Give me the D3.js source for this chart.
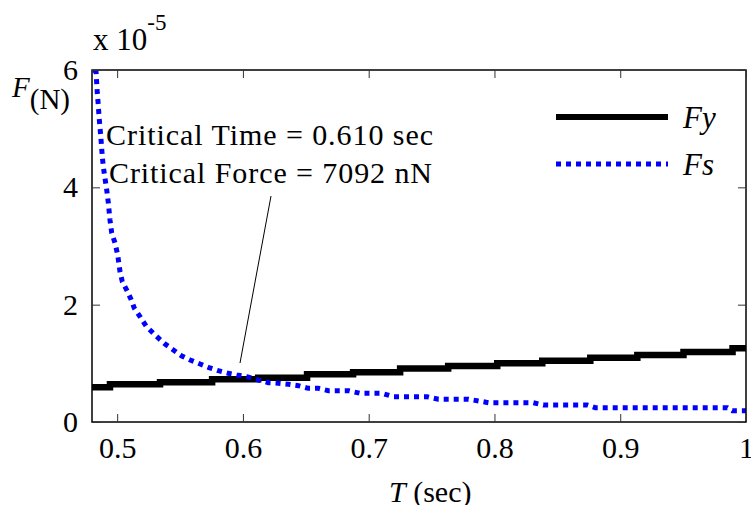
<!DOCTYPE html>
<html>
<head>
<meta charset="utf-8">
<script src="https://cdn.jsdelivr.net/npm/d3@7"></script>
</head>
<body style="margin:0;background:#fff">
<svg id="chart" width="751" height="505" style="display:block"></svg>
<script>
// ---- data (values in units of 1e-5 N) ----
const xTicks = [0.5, 0.6, 0.7, 0.8, 0.9, 1.0];
const xTickLabels = ["0.5", "0.6", "0.7", "0.8", "0.9", "1"];
const yTicks = [0, 2, 4, 6];
const yTickLabels = ["0", "2", "4", "6"];

// Fy: staircase (start time of each level, level value)
const fyT = [0.480, 0.4943, 0.5341, 0.5755, 0.6121, 0.6510, 0.6876, 0.7250, 0.7632, 0.8022, 0.8380, 0.8762, 0.9136, 0.9503, 0.9893, 1.0];
const fyV = [0.591, 0.643, 0.677, 0.728, 0.755, 0.813, 0.847, 0.912, 0.954, 1.000, 1.045, 1.096, 1.142, 1.193, 1.256, 1.256];

// Fs: decaying curve
const fsT = [0.4816, 0.4832, 0.4842, 0.4850, 0.4856, 0.4864, 0.4872, 0.4882, 0.4890, 0.4903, 0.4917, 0.4930, 0.4943, 0.4957, 0.4983,
  0.5004, 0.5023, 0.5041, 0.5076, 0.5110, 0.5137, 0.5182, 0.5230, 0.5301, 0.5381, 0.5447, 0.5514, 0.5580, 0.5659, 0.5725,
  0.5805, 0.5884, 0.5951, 0.6031, 0.6123, 0.6203, 0.6282, 0.6362, 0.6441, 0.6521, 0.6600, 0.6680, 0.6839, 0.6932, 0.7105,
  0.7197, 0.7463, 0.7555, 0.7794, 0.7953, 0.8308, 0.8388, 0.8738, 0.8802, 0.9852, 0.9891, 1.0];
const fsV = [6.0, 5.97, 5.607, 5.403, 5.204, 5.011, 4.807, 4.522, 4.352, 4.159, 3.955, 3.733, 3.443, 3.222, 3.051,
  2.85, 2.562, 2.391, 2.250, 2.091, 1.938, 1.795, 1.636, 1.483, 1.330, 1.227, 1.125, 1.057, 0.989, 0.932,
  0.874, 0.830, 0.801, 0.772, 0.716, 0.670, 0.660, 0.643, 0.619, 0.574, 0.574, 0.534, 0.534, 0.489, 0.489,
  0.431, 0.431, 0.387, 0.387, 0.329, 0.329, 0.290, 0.290, 0.244, 0.244, 0.193, 0.193];

const criticalT = 0.610;
const criticalF = 7092;

// ---- layout ----
const FONT = '"Liberation Serif"';
const svg = d3.select("#chart");
const L = 92, R = 746, T = 70, B = 422;
const x = d3.scaleLinear().domain([0.48, 1.0]).range([L, R]);
const y = d3.scaleLinear().domain([0, 6]).range([B, T]);

svg.append("defs").append("clipPath").attr("id", "plotclip")
  .append("rect").attr("x", L).attr("y", T).attr("width", R - L).attr("height", B - T);

const plot = svg.append("g").attr("clip-path", "url(#plotclip)");

// Fy line
const fyData = fyT.map((t, i) => [t, fyV[i]]);
plot.append("path")
  .datum(fyData)
  .attr("fill", "none")
  .attr("stroke", "#000")
  .attr("stroke-width", 6.5)
  .attr("d", d3.line().x(d => x(d[0])).y(d => y(d[1])).curve(d3.curveStepAfter));

// Fs dotted line
const fsData = fsT.map((t, i) => [t, fsV[i]]);
plot.append("path")
  .datum(fsData)
  .attr("fill", "none")
  .attr("stroke", "#0000ff")
  .attr("stroke-width", 5)
  .attr("stroke-dasharray", "5,5")
  .attr("d", d3.line().x(d => x(d[0])).y(d => y(d[1])));

// box
svg.append("rect").attr("x", L).attr("y", T).attr("width", R - L).attr("height", B - T)
  .attr("fill", "none").attr("stroke", "#000").attr("stroke-width", 1.5);

// axes (ticks inward)
const fs = 30;
const gx = svg.append("g").attr("transform", `translate(0,${B})`)
  .call(d3.axisBottom(x).tickValues(xTicks).tickSize(-8).tickPadding(0)
    .tickFormat((d, i) => xTickLabels[i]));
gx.select(".domain").remove();
gx.selectAll("text").attr("y", 15).attr("dy", "0.71em").attr("fill", "#000")
  .style("font-size", fs + "px").style("font-family", FONT);

const gxt = svg.append("g").attr("transform", `translate(0,${T})`)
  .call(d3.axisTop(x).tickValues(xTicks).tickSize(-8).tickFormat(""));
gxt.select(".domain").remove();

const gy = svg.append("g").attr("transform", `translate(${L},0)`)
  .call(d3.axisLeft(y).tickValues(yTicks).tickSize(-8).tickPadding(0)
    .tickFormat((d, i) => yTickLabels[i]));
gy.select(".domain").remove();
gy.selectAll("text").attr("x", -14).attr("fill", "#000")
  .style("font-size", fs + "px").style("font-family", FONT);

const gyr = svg.append("g").attr("transform", `translate(${R},0)`)
  .call(d3.axisRight(y).tickValues(yTicks).tickSize(-8).tickFormat(""));
gyr.select(".domain").remove();

svg.selectAll(".tick line").attr("stroke", "#333").attr("stroke-width", 1);

function txt(xp, yp, size) {
  return svg.append("text").attr("x", xp).attr("y", yp).attr("fill", "#000")
    .style("font-family", FONT).style("font-size", size + "px");
}

// exponent label
const ex = txt(93, 50, 31);
ex.append("tspan").text("x 10");
ex.append("tspan").attr("dy", -20).style("font-size", "23px").text("-5");

// y label
const yl = txt(12, 97, 29);
yl.append("tspan").style("font-style", "italic").text("F");
yl.append("tspan").attr("dy", 12).text("(N)");

// x label
const xl = txt(389, 502, 30);
xl.append("tspan").style("font-style", "italic").text("T");
xl.append("tspan").text(" (sec)");

// annotation
txt(106, 145, 30).attr("textLength", 327).attr("lengthAdjust", "spacing")
  .text(`Critical Time = ${criticalT.toFixed(3)} sec`);
txt(109, 183, 30).attr("textLength", 323).attr("lengthAdjust", "spacing")
  .text(`Critical Force = ${criticalF} nN`);
svg.append("line").attr("x1", 271).attr("y1", 196).attr("x2", 240).attr("y2", 363)
  .attr("stroke", "#000").attr("stroke-width", 1);

// legend
const legend = [
  { label: "Fy", color: "#000", dash: null, w: 6, y: 117 },
  { label: "Fs", color: "#0000ff", dash: "5,5", w: 5, y: 164 }
];
legend.forEach(d => {
  svg.append("line").attr("x1", 556).attr("x2", 668).attr("y1", d.y).attr("y2", d.y)
    .attr("stroke", d.color).attr("stroke-width", d.w).attr("stroke-dasharray", d.dash);
  txt(683, d.y + 11, 31).style("font-style", "italic").text(d.label);
});
</script>
</body>
</html>
